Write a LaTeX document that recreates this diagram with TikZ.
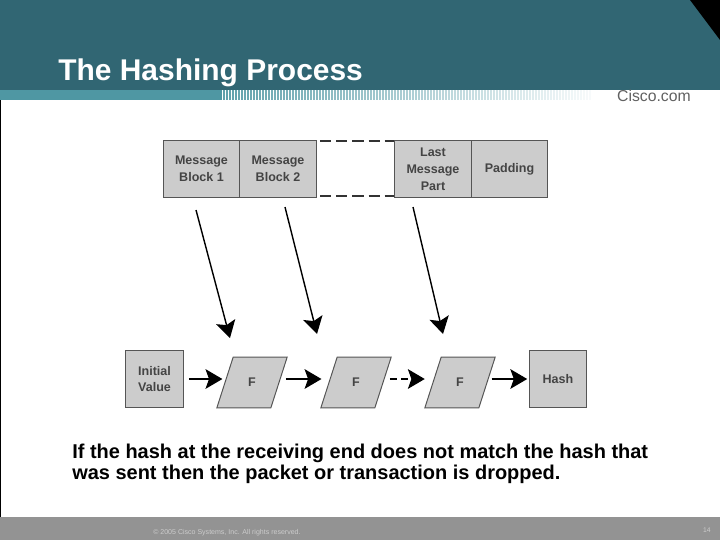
\documentclass[tikz,border=0pt]{standalone}
\usepackage{fontspec}
\setmainfont{Liberation Sans}
\usetikzlibrary{arrows.meta,shapes.geometric}
\definecolor{bandteal}{HTML}{316673}
\definecolor{stripeteal}{HTML}{4F97A3}
\definecolor{footgray}{HTML}{939393}
\definecolor{boxgray}{HTML}{CCCCCC}
\definecolor{boxline}{HTML}{555555}
\definecolor{boxtext}{HTML}{444444}
\tikzset{
	blockbox/.style={draw=boxline,fill=boxgray,line width=.8pt,inner sep=0pt,align=center,
		text=boxtext,font=\bfseries\fontsize{8.9}{12}\selectfont,
		minimum width=54.5pt,minimum height=41pt},
	funcbox/.style={draw=boxline,fill=boxgray,line width=.7pt,inner sep=0pt,
		text=boxtext,font=\bfseries\fontsize{8.9}{12}\selectfont,
		trapezium,trapezium left angle=69,trapezium right angle=111,trapezium stretches=true,
		minimum width=50pt,minimum height=36pt},
	flow/.style={line width=1pt,-{Stealth[length=12pt,width=14pt,inset=2.5pt]}},
	gapline/.style={boxline!60!black,dash pattern=on 8pt off 3.5pt,line width=1pt},
	bodytext/.style={anchor=west,inner sep=0pt,font=\bfseries\fontsize{14.2}{15}\selectfont,align=left}
}
\begin{document}
\begin{tikzpicture}[x=0.025cm,y=-0.025cm,line join=miter]
	\useasboundingbox (0,0) rectangle (720,540);
	% header and footer
	\fill[white] (0,0) rectangle (720,540);
	\fill[bandteal] (0,0) rectangle (720,90);
	\fill[black] (690,0) -- (720,0) -- (720,40) -- cycle;
	\fill[stripeteal] (0,90) rectangle (222,100);
	\foreach \x in {0,...,122} {
		\pgfmathsetmacro{\shade}{90-\x*0.7}
		\draw[stripeteal!\shade!white,line width=.9pt] (224+3*\x,90) -- (224+3*\x,100);
	}
	\fill[black] (0,100) rectangle (1,517);
	\fill[footgray] (0,517) rectangle (720,540);
	\node[anchor=west,inner sep=0pt,text=white,font=\bfseries\fontsize{21.3}{24}\selectfont] (title) at (58,72.5) {The Hashing Process};
	\node[anchor=east,inner sep=0pt,text=black!62,font=\fontsize{11.2}{12}\selectfont] (brand) at (691,96) {Cisco.com};
	\node[anchor=west,inner sep=0pt,text=black!20,font=\fontsize{5}{6}\selectfont] (copyright) at (153,533) {© 2005 Cisco Systems, Inc. All rights reserved.};
	\node[anchor=east,inner sep=0pt,text=black!20,font=\fontsize{4.8}{6}\selectfont] (pagenum) at (711,530) {14};
	% message blocks
	\node[blockbox] (blockone) at (201.5,169) {Message\\Block 1};
	\node[blockbox] (blocktwo) at (278,169) {Message\\Block 2};
	\node[blockbox] (lastpart) at (433,169) {Last\\Message\\Part};
	\node[blockbox] (padding) at (509.5,169) {Padding};
	\coordinate (gaptop) at (320,141);
	\coordinate (gapbot) at (320,196);
	\draw[gapline] (gaptop) -- (gaptop -| lastpart.west);
	\draw[gapline] (gapbot) -- (gapbot -| lastpart.west);
	% chain
	\node[blockbox,minimum width=41pt] (initval) at (154.5,379) {Initial\\Value};
	\node[funcbox] (fone) at (252,382.5) {F};
	\node[funcbox] (ftwo) at (356,382.5) {F};
	\node[funcbox] (fthree) at (460,382.5) {F};
	\node[blockbox,minimum width=41pt] (hashbox) at (558,379) {Hash};
	\draw[flow,shorten <=3.5pt,shorten >=1.5pt] (initval.east) -- (initval.east -| fone.west);
	\draw[flow,shorten <=4.5pt,shorten >=5pt] (fone.east |- initval.east) -- (ftwo.west |- initval.east);
	\draw[flow,dash pattern=on 5pt off 3pt,shorten <=4.5pt,shorten >=5.5pt] (ftwo.east |- initval.east) -- (fthree.west |- initval.east);
	\draw[flow,shorten <=3pt,shorten >=1pt] (fthree.east |- initval.east) -- (hashbox.west);
	% inputs
	\coordinate (inone) at (196,210);
	\coordinate (intwo) at (285,207);
	\coordinate (inthree) at (413,207);
	\coordinate (tipone) at (230,338);
	\coordinate (tiptwo) at (317,334);
	\coordinate (tipthree) at (443,334);
	\draw[flow] (inone) -- (tipone);
	\draw[flow] (intwo) -- (tiptwo);
	\draw[flow] (inthree) -- (tipthree);
	\node[bodytext] (note) at (72,464) {If the hash at the receiving end does not match the hash that\\was sent then the packet or transaction is dropped.};
\end{tikzpicture}
\end{document}
